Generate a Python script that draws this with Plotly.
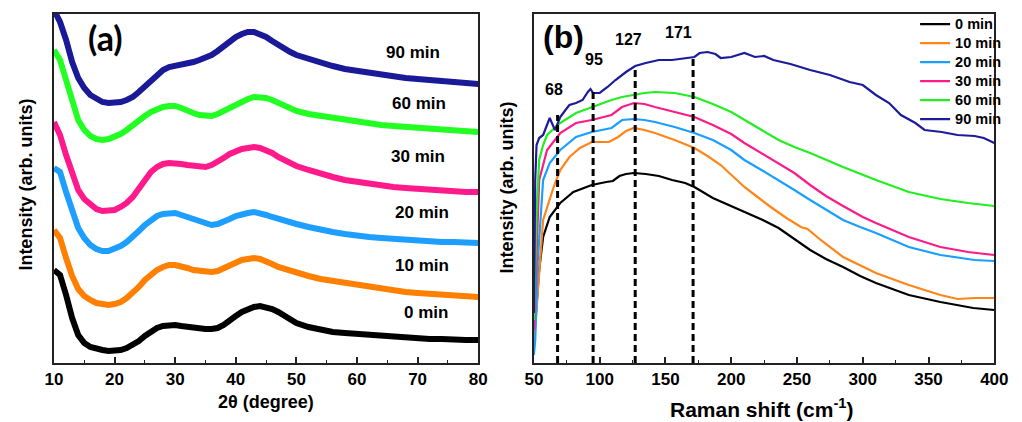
import plotly.graph_objects as go

# ---------------- Panel (a): XRD ----------------
two_theta = [10, 11, 12, 13, 14, 15, 16, 17, 18, 19, 20, 21, 22, 23, 24, 25, 26, 27, 28, 29,
             30, 31, 32, 33, 34, 35, 36, 37, 38, 39, 40, 41, 42, 43, 44, 45, 46, 47, 48, 49,
             50, 52, 54, 56, 58, 60, 62, 64, 66, 68, 70, 72, 74, 76, 78, 80]

xrd_0 = [93, 88, 68, 45, 28, 20, 16, 14, 13, 12, 12, 13, 15, 18, 22, 27, 31, 35, 37, 38,
         38, 37, 36, 35, 35, 34, 34, 35, 38, 43, 47, 51, 54, 56, 57, 56, 54, 51, 47, 43,
         40, 36, 33, 31, 30, 29, 28, 27, 26, 25, 25, 24, 24, 23, 23, 23]
xrd_10 = [133, 125, 105, 87, 74, 67, 63, 60, 59, 58, 59, 61, 65, 70, 76, 83, 89, 93, 96, 98,
          98, 97, 95, 93, 92, 91, 91, 92, 95, 98, 101, 103, 104, 105, 104, 102, 99, 96, 94, 92,
          90, 87, 84, 82, 80, 78, 76, 74, 73, 71, 70, 69, 68, 67, 67, 66]
xrd_20 = [195, 191, 171, 151, 135, 125, 118, 114, 112, 112, 114, 117, 121, 126, 132, 138, 143, 147, 149, 150,
          150, 148, 146, 143, 141, 139, 138, 139, 141, 144, 147, 149, 150, 151, 150, 148, 146, 144, 142, 141,
          139, 136, 133, 131, 129, 127, 126, 125, 124, 123, 122, 122, 121, 121, 120, 120]
xrd_30 = [241, 228, 208, 188, 173, 164, 158, 154, 152, 152, 153, 156, 160, 166, 174, 183, 191, 196, 199, 200,
          200, 199, 198, 197, 196, 196, 198, 201, 205, 209, 212, 214, 215, 216, 215, 213, 210, 206, 203, 200,
          197, 193, 189, 186, 183, 181, 179, 178, 176, 175, 174, 173, 172, 172, 171, 171]
xrd_60 = [313, 303, 283, 261, 243, 233, 227, 224, 223, 224, 226, 229, 233, 238, 243, 247, 251, 254, 256, 257,
          257, 255, 252, 250, 248, 247, 247, 249, 252, 256, 259, 262, 264, 266, 266, 265, 263, 260, 257, 254,
          252, 249, 247, 245, 243, 241, 239, 238, 237, 236, 235, 234, 233, 232, 232, 231]
xrd_90 = [353, 341, 323, 301, 285, 275, 268, 264, 261, 260, 260, 261, 263, 266, 271, 277, 283, 289, 293, 296,
          297, 298, 299, 301, 303, 305, 308, 312, 317, 322, 326, 329, 331, 331, 329, 326, 322, 318, 314, 311,
          308, 304, 300, 297, 294, 292, 290, 288, 287, 285, 284, 283, 282, 281, 280, 279]

xrd_labels = ["0 min", "10 min", "20 min", "30 min", "60 min", "90 min"]
xrd_label_x = [71.4, 70.8, 70.8, 70.0, 70.3, 69.2]
xrd_label_y = [51, 98, 151, 207, 260, 311]

# ---------------- Panel (b): Raman ----------------
s_0 = [50, 51, 54, 57, 62, 70, 80, 94, 105, 110, 115, 120, 126, 135, 145, 155, 165, 172, 186, 200,
       211, 224, 236, 248, 260, 272, 285, 298, 310, 335, 359, 384, 400]
r_0 = [18, 40, 93, 126, 146, 160, 171, 178, 181, 182, 187, 189, 190, 189, 187, 183, 180, 176, 165, 157,
       150, 143, 135, 124, 113, 104, 96, 87, 80, 68, 61, 55, 53]

s_10 = [50, 52, 57, 65, 70, 77, 85, 94, 107, 114, 120, 126, 134, 142, 157, 172, 182, 192, 201, 210,
        220, 230, 242, 250, 253, 258, 268, 285, 300, 310, 335, 359, 372, 385, 400]
r_10 = [18, 56, 143, 176, 193, 206, 215, 221, 221, 226, 232, 235, 233, 230, 223, 215, 207, 198, 187, 176,
        166, 156, 145, 139, 136, 134, 123, 106, 96, 90, 78, 68, 64, 65, 65]

s_20 = [50, 51, 53, 57, 62, 70, 82, 94, 109, 117, 126, 134, 142, 157, 172, 186, 200, 210, 223, 236,
        248, 260, 272, 285, 298, 310, 335, 359, 385, 400]
r_20 = [8, 23, 103, 183, 200, 213, 226, 231, 235, 243, 244, 243, 241, 236, 230, 223, 213, 203, 193, 183,
        173, 163, 153, 143, 136, 130, 116, 108, 103, 102]

s_30 = [50, 51, 54, 60, 70, 82, 94, 109, 117, 126, 134, 142, 157, 172, 186, 200, 210, 223, 236, 248,
        260, 272, 285, 300, 310, 335, 359, 380, 400]
r_30 = [33, 76, 183, 213, 230, 240, 243, 248, 256, 260, 259, 256, 251, 246, 238, 229, 220, 210, 200, 190,
        178, 167, 157, 146, 140, 126, 116, 111, 108]

s_60 = [50, 51, 52, 54, 57, 60, 70, 82, 94, 109, 117, 126, 134, 142, 157, 172, 186, 200, 210, 223,
        236, 248, 260, 285, 310, 335, 359, 380, 400]
r_60 = [43, 103, 150, 203, 218, 228, 240, 250, 256, 263, 266, 268, 270, 271, 270, 266, 259, 251, 243, 233,
        223, 216, 210, 196, 183, 171, 164, 160, 157]

s_90 = [50, 51, 52, 54, 57, 60, 62, 64, 66, 67, 70, 74, 77, 82, 87, 91, 93, 95, 100, 106,
        112, 120, 127, 135, 145, 155, 165, 172, 176, 182, 188, 192, 200, 210, 218, 225, 232, 245, 260, 275,
        290, 300, 310, 320, 329, 340, 347, 360, 372, 385, 392, 400]
r_90 = [50, 183, 218, 225, 228, 238, 245, 239, 233, 236, 246, 253, 258, 260, 263, 271, 274, 270, 270, 276,
        283, 291, 297, 300, 303, 303, 305, 306, 310, 311, 309, 305, 306, 310, 306, 307, 303, 299, 293, 288,
        281, 278, 268, 260, 248, 240, 233, 231, 228, 227, 225, 220]

peak_pos = [68, 95, 127, 171]
peak_top = [248, 271, 296, 308]
peak_labels = ["68", "95", "127", "171"]
peak_label_x = [64.9, 95.5, 121.7, 160.0]
peak_label_y = [274, 304, 324, 331]

series_names = ["0 min", "10 min", "20 min", "30 min", "60 min", "90 min"]
colors_a = ["#000000", "#ff8000", "#1e9fff", "#ff1a8c", "#22ff22", "#1a1a99"]
colors_b = ["#000000", "#ff8519", "#1a9fff", "#fb1c8a", "#22ee22", "#1c1c9a"]

FONT = "Liberation Sans"

fig = go.Figure()

xrd_series = [xrd_0, xrd_10, xrd_20, xrd_30, xrd_60, xrd_90]
for ys, c in zip(xrd_series, colors_a):
    fig.add_trace(go.Scatter(x=two_theta, y=ys, mode="lines", line=dict(color=c, width=6),
                             xaxis="x", yaxis="y", showlegend=False, hoverinfo="skip"))

raman_s = [s_0, s_10, s_20, s_30, s_60, s_90]
raman_r = [r_0, r_10, r_20, r_30, r_60, r_90]
for xs, ys, c, n in zip(raman_s, raman_r, colors_b, series_names):
    fig.add_trace(go.Scatter(x=xs, y=ys, mode="lines", line=dict(color=c, width=2.2),
                             xaxis="x2", yaxis="y2",
                             name="<span style='font-size:14.5px'>" + n + "</span>",
                             showlegend=True))

for p, t in zip(peak_pos, peak_top):
    fig.add_trace(go.Scatter(x=[p, p], y=[0, t], mode="lines",
                             line=dict(color="black", width=3, dash="7px,4px"),
                             xaxis="x2", yaxis="y2", showlegend=False, hoverinfo="skip"))

annotations = []
for txt, x, y in zip(xrd_labels, xrd_label_x, xrd_label_y):
    annotations.append(dict(text=txt, x=x, y=y, xref="x", yref="y", showarrow=False,
                            xanchor="center", yanchor="middle",
                            font=dict(family=FONT, size=17, color="black", weight="bold")))
for txt, x, y in zip(peak_labels, peak_label_x, peak_label_y):
    annotations.append(dict(text=txt, x=x, y=y, xref="x2", yref="y2", showarrow=False,
                            xanchor="center", yanchor="middle",
                            font=dict(family=FONT, size=16, color="black", weight="bold")))

annotations += [
    dict(text="(a)", x=18.5, y=326, xref="x", yref="y", showarrow=False,
         xanchor="center", yanchor="middle",
         font=dict(family="Lato", size=34, color="black", weight="bold")),
    dict(text="(b)", x=72.7, y=326, xref="x2", yref="y2", showarrow=False,
         xanchor="center", yanchor="middle",
         font=dict(family=FONT, size=32, color="black", weight="bold")),
    dict(text="2θ (degree)", x=263 / 1022, y=1 - 402 / 422, xref="paper", yref="paper",
         showarrow=False, xanchor="center", yanchor="middle",
         font=dict(family=FONT, size=18, color="black", weight="bold")),
    dict(text="Raman shift (cm<sup>-1</sup>)", x=770 / 1022, y=1 - 408 / 422, xref="paper", yref="paper",
         showarrow=False, xanchor="center", yanchor="middle",
         font=dict(family=FONT, size=21, color="black", weight="bold")),
    dict(text="Intensity (arb. units)", x=17 / 1022, y=1 - 185 / 422, xref="paper", yref="paper",
         showarrow=False, textangle=-90, xanchor="center", yanchor="middle",
         font=dict(family=FONT, size=18, color="black", weight="bold")),
    dict(text="Intensity (arb. units)", x=509 / 1022, y=1 - 188 / 422, xref="paper", yref="paper",
         showarrow=False, textangle=-90, xanchor="center", yanchor="middle",
         font=dict(family=FONT, size=18, color="black", weight="bold")),
]

axis_common = dict(showline=True, mirror=True, linecolor="#222222", linewidth=1.5,
                   showgrid=False, zeroline=False)
tickfont = dict(family=FONT, size=17, color="black", weight="bold")

fig.update_layout(
    width=1022, height=422,
    margin=dict(l=0, r=0, t=0, b=0),
    paper_bgcolor="white", plot_bgcolor="white",
    xaxis=dict(domain=[46 / 1022, 480 / 1022], range=[10, 80], anchor="y",
               tickmode="array", tickvals=[10, 20, 30, 40, 50, 60, 70, 80],
               ticks="inside", ticklen=6, tickwidth=1.5, tickcolor="#222222",
               minor=dict(ticks="inside", ticklen=3, tickwidth=1.2, tickcolor="#222222",
                          tickmode="array", tickvals=[15, 25, 35, 45, 55, 65, 75]),
               tickfont=tickfont, **axis_common),
    yaxis=dict(domain=[1 - 363 / 422, 1 - 14 / 422], range=[0, 349], anchor="x",
               showticklabels=False, ticks="", **axis_common),
    xaxis2=dict(domain=[537 / 1022, 1008 / 1022], range=[50, 400], anchor="y2",
                tickmode="array", tickvals=[50, 100, 150, 200, 250, 300, 350, 400],
                ticks="inside", ticklen=6, tickwidth=1.5, tickcolor="#222222",
                minor=dict(ticks="inside", ticklen=3, tickwidth=1.2, tickcolor="#222222",
                           tickmode="array", tickvals=[75, 125, 175, 225, 275, 325, 375]),
                tickfont=tickfont, **axis_common),
    yaxis2=dict(domain=[1 - 363 / 422, 1 - 14 / 422], range=[0, 349], anchor="x2",
                showticklabels=False, ticks="", **axis_common),
    legend=dict(x=0.907, y=0.977, xanchor="left", yanchor="top",
                bgcolor="rgba(0,0,0,0)", borderwidth=0,
                font=dict(family=FONT, size=12, color="black", weight="bold"),
                tracegroupgap=0, itemwidth=30),
    annotations=annotations,
)

fig.write_html("out.html")
